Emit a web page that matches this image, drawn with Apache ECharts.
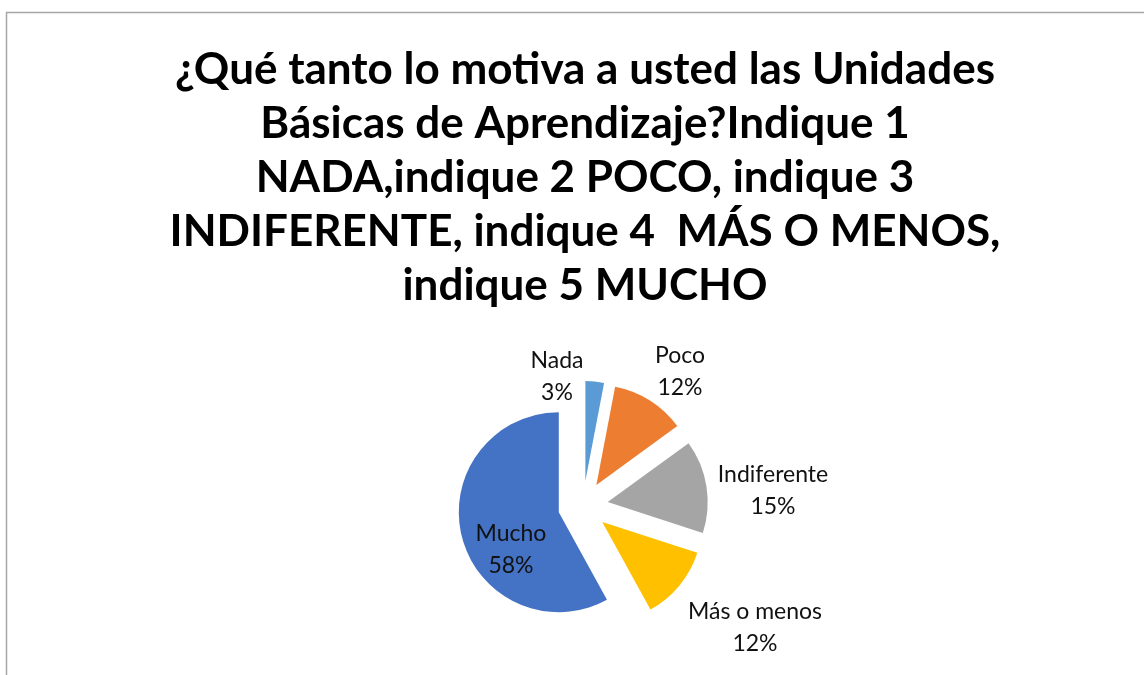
<!DOCTYPE html>
<html>
<head>
<meta charset="utf-8">
<script src="https://cdn.jsdelivr.net/npm/echarts@6/dist/echarts.min.js"></script>
<style>
  html, body { margin: 0; padding: 0; background: #fff; }
  #chart { width: 1144px; height: 675px; }
</style>
</head>
<body>
<div id="chart"></div>
<script>
// datos de la encuesta
const categories = ['Nada', 'Poco', 'Indiferente', 'Más o menos', 'Mucho'];
const percents = [3, 12, 15, 12, 58];
const colors = ['#5B9BD5', '#ED7D31', '#A5A5A5', '#FFC000', '#4472C4'];
const titleLines = [
    '¿Qué tanto lo motiva a usted las Unidades',
    'Básicas de Aprendizaje?Indique 1',
    'NADA,indique 2 POCO, indique 3',
    'INDIFERENTE, indique 4  MÁS O MENOS,',
    'indique 5 MUCHO'
];

// posicion de cada etiqueta (centro del bloque de texto)
const labelSpots = [[557, 377], [680, 372], [773, 491], [755, 628], [511, 550]];

const chart = echarts.init(document.getElementById('chart'));

const pieCenter = [583, 506];
const pieRadius = 100;

const option = {
    animation: false,
    backgroundColor: '#fff',
    graphic: [
        {
            type: 'rect',
            shape: { x: 6.5, y: 12.5, width: 1300, height: 900 },
            style: { fill: 'none', stroke: '#a6a6a6', lineWidth: 1.5 },
            silent: true
        },
        {
            type: 'text',
            x: 585,
            y: 43,
            style: {
                text: titleLines.join('\n'),
                align: 'center',
                verticalAlign: 'top',
                fontFamily: 'Lato',
                fontWeight: 'bold',
                fontSize: 44,
                lineHeight: 54,
                fill: '#000'
            },
            silent: true
        }
    ],
    series: [
        // rebanadas separadas (todas seleccionadas)
        {
            type: 'pie',
            center: pieCenter,
            radius: pieRadius,
            startAngle: 90,
            clockwise: true,
            selectedMode: 'multiple',
            selectedOffset: 25,
            emphasis: { disabled: true },
            label: { show: false },
            labelLine: { show: false },
            data: categories.map((name, i) => ({
                name: name,
                value: percents[i],
                selected: true,
                itemStyle: { color: colors[i] }
            }))
        },
        // solo etiquetas
        {
            type: 'pie',
            center: pieCenter,
            radius: pieRadius,
            startAngle: 90,
            clockwise: true,
            silent: true,
            emphasis: { disabled: true },
            itemStyle: { color: 'rgba(0,0,0,0)' },
            label: {
                show: true,
                position: 'outside',
                formatter: (p) => p.name + '\n' + p.value + '%',
                fontFamily: 'Lato',
                fontSize: 23,
                lineHeight: 32,
                color: '#111',
                align: 'center'
            },
            labelLine: { show: false },
            labelLayout: (params) => {
                const spot = labelSpots[params.dataIndex];
                return {
                    x: spot[0],
                    y: spot[1],
                    align: 'center',
                    verticalAlign: 'middle'
                };
            },
            data: categories.map((name, i) => ({
                name: name,
                value: percents[i]
            }))
        }
    ]
};

chart.setOption(option);
</script>
</body>
</html>
